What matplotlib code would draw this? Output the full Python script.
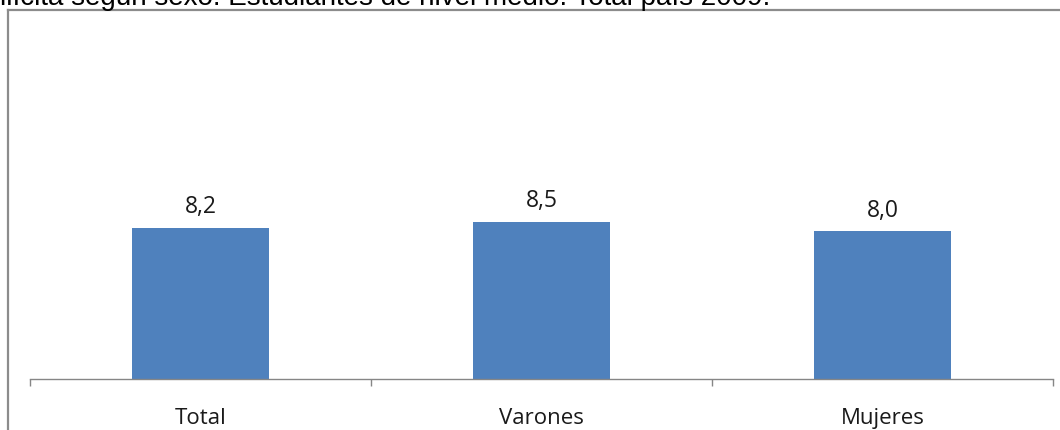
import matplotlib
matplotlib.use("Agg")
import matplotlib.pyplot as plt
from matplotlib.lines import Line2D

categories = ["Total", "Varones", "Mujeres"]
values = [8.2, 8.5, 8.0]
value_labels = ["8,2", "8,5", "8,0"]
title = "ilícita según sexo. Estudiantes de nivel medio. Total país 2009."

W, H = 1060, 431
fig = plt.figure(figsize=(W / 100, H / 100), dpi=100)

# axes geometry (pixels)
left_px, right_px, base_px, top_px = 30, 1053, 380, 20
ax = fig.add_axes([left_px / W, 1 - base_px / H, (right_px - left_px) / W, (base_px - top_px) / H])

x = list(range(len(categories)))
ax.bar(x, values, width=0.4, color="#4F81BD", zorder=2)
ax.set_xlim(-0.5, len(categories) - 0.5)
ax.set_ylim(0, (base_px - top_px) / 18.45)

for xi, v, lab in zip(x, values, value_labels):
    ax.annotate(lab, (xi, v), xytext=(0, 7), textcoords="offset points",
                ha="center", va="bottom", fontsize=16.5, family="Open Sans", color="#1a1a1a")

for s in ["top", "right", "left"]:
    ax.spines[s].set_visible(False)
ax.spines["bottom"].set_color("#868686")
ax.spines["bottom"].set_linewidth(1.0)
ax.set_yticks([])
ax.set_xticks(x)
ax.set_xticklabels(categories, fontsize=16, family="Open Sans", color="#1a1a1a")
ax.tick_params(axis="x", which="major", length=0, pad=20.5)
ax.set_xticks([i - 0.5 for i in range(len(categories) + 1)], minor=True)
ax.tick_params(axis="x", which="minor", length=5, color="#868686", width=1.0, direction="out")

# outer frame (left & top)
frame_col = "#8c8c8c"
fig.add_artist(Line2D([7.5 / W, 7.5 / W], [0, 1 - 10.5 / H], transform=fig.transFigure,
                      color=frame_col, lw=1.6))
fig.add_artist(Line2D([7.5 / W, 1], [1 - 10.5 / H, 1 - 10.5 / H], transform=fig.transFigure,
                      color=frame_col, lw=1.6))

# title, cut off at the top edge as in the reference
fig.text(0 / W, 1 - 5 / H, title, ha="left", va="baseline", fontsize=20,
         family="Liberation Sans", color="#000000")

fig.savefig("out.png", dpi=100)
